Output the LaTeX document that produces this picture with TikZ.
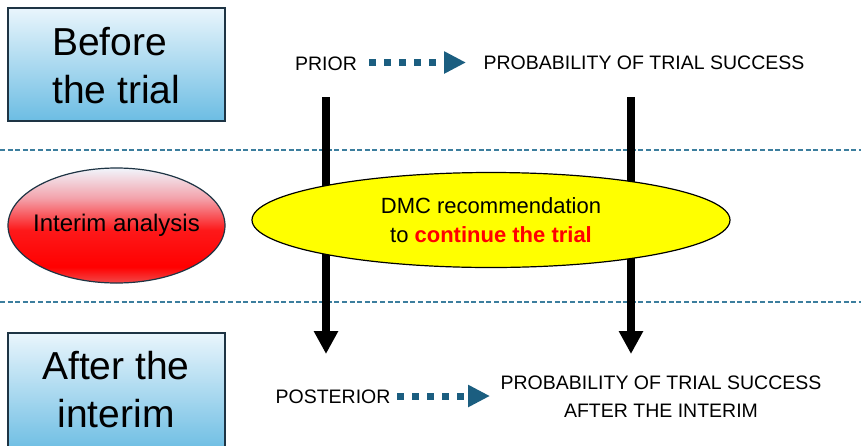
\documentclass[tikz,border=0pt]{standalone}
\usepackage{fontspec}
\setmainfont{Liberation Sans}
\usetikzlibrary{arrows.meta,shapes.geometric}
\definecolor{boxtop}{HTML}{E9F5FC}
\definecolor{boxbot}{HTML}{6CBDE3}
\definecolor{boxline}{HTML}{1E3444}
\definecolor{teal}{HTML}{3C7E9E}
\definecolor{dotblue}{HTML}{1B5E80}
\definecolor{yel}{HTML}{FFFF00}
\definecolor{redtop}{HTML}{F1F5FC}
\definecolor{redmid}{HTML}{F3A3AC}
\definecolor{redbot}{HTML}{F24A4A}
\definecolor{txtred}{HTML}{FF0000}
\pgfdeclareverticalshading{redshade}{100bp}{color(0bp)=(redbot); color(25bp)=(redbot); color(32bp)=(red); color(48bp)=(red!85!redmid); color(62bp)=(redmid); color(75bp)=(redtop); color(100bp)=(redtop)}
\tikzset{
  phasetext/.style={font=\fontsize{39}{48}\selectfont, inner sep=0pt},
  caps/.style={font=\fontsize{19.5}{28}\selectfont, inner sep=0pt, align=center},
  sep/.style={draw=teal, line width=1.6pt, dash pattern=on 5pt off 2.6pt},
  bigarrow/.style={line width=8pt, -{Triangle[length=23pt,width=23pt]}},
  dotarrow/.style={draw=dotblue, line width=7pt, dash pattern=on 7pt off 8pt, -{Triangle[length=22pt,width=21pt]}},
  ell/.style={ellipse, line width=1.2pt, inner sep=0pt, outer sep=0pt},
}
\begin{document}
\begin{tikzpicture}[x=1pt,y=-1pt]
\useasboundingbox (0,0) rectangle (861,445);
\fill[white] (0,0) rectangle (861,445);
% separators
\coordinate (s1a) at (0,150); \coordinate (s1b) at (861,150);
\coordinate (s2a) at (0,302); \coordinate (s2b) at (861,302);
\draw[sep] (s1a) -- (s1b);
\draw[sep] (s2a) -- (s2b);
% phase boxes
\shade[draw=boxline, line width=1.2pt, top color=boxtop, bottom color=boxbot] (8,8) rectangle (225,121);
\node[phasetext, anchor=west, align=left] (before) at (52,66) {Before\\the trial};
\begin{scope}
\clip (0,0) rectangle (861,445);
\shade[draw=boxline, line width=1.2pt, top color=boxtop, bottom color=boxbot] (8,333) rectangle (225,452);
\end{scope}
\node[phasetext, align=center] (after) at (116,390) {After the\\interim};
% red ellipse
\node[ell, draw=boxline, shading=redshade, minimum width=217pt, minimum height=115pt] (interim) at (116.5,225.5) {};
\node[font=\fontsize{24}{28}\selectfont, inner sep=0pt] (interimtxt) at (interim.center) {Interim analysis};
% vertical arrows
\coordinate (a1s) at (326,97); \coordinate (a1e) at (326,354);
\coordinate (a2s) at (631,97); \coordinate (a2e) at (631,354);
\draw[bigarrow] (a1s) -- (a1e);
\draw[bigarrow] (a2s) -- (a2e);
% yellow ellipse
\node[ell, draw=black, fill=yel, minimum width=478pt, minimum height=95pt] (dmc) at (491,220) {};
\node[align=center, inner sep=0pt, font=\fontsize{22}{28.5}\selectfont] (dmctxt) at (dmc.center) {DMC recommendation\\to \textcolor{txtred}{\textbf{continue the trial}}};
% top row
\node[caps] (prior) at (326,64) {PRIOR};
\node[caps] (prob) at (644,63) {PROBABILITY OF TRIAL SUCCESS};
\coordinate (p1) at (369,62.5); \coordinate (p2) at (466,62.5);
\draw[dotarrow] (p1) -- (p2);
% bottom row
\node[caps] (post) at (333,397) {POSTERIOR};
\node[caps] (prob2) at (661,397) {PROBABILITY OF TRIAL SUCCESS\\AFTER THE INTERIM};
\coordinate (q1) at (397,396); \coordinate (q2) at (490,396);
\draw[dotarrow] (q1) -- (q2);
\end{tikzpicture}
\end{document}
